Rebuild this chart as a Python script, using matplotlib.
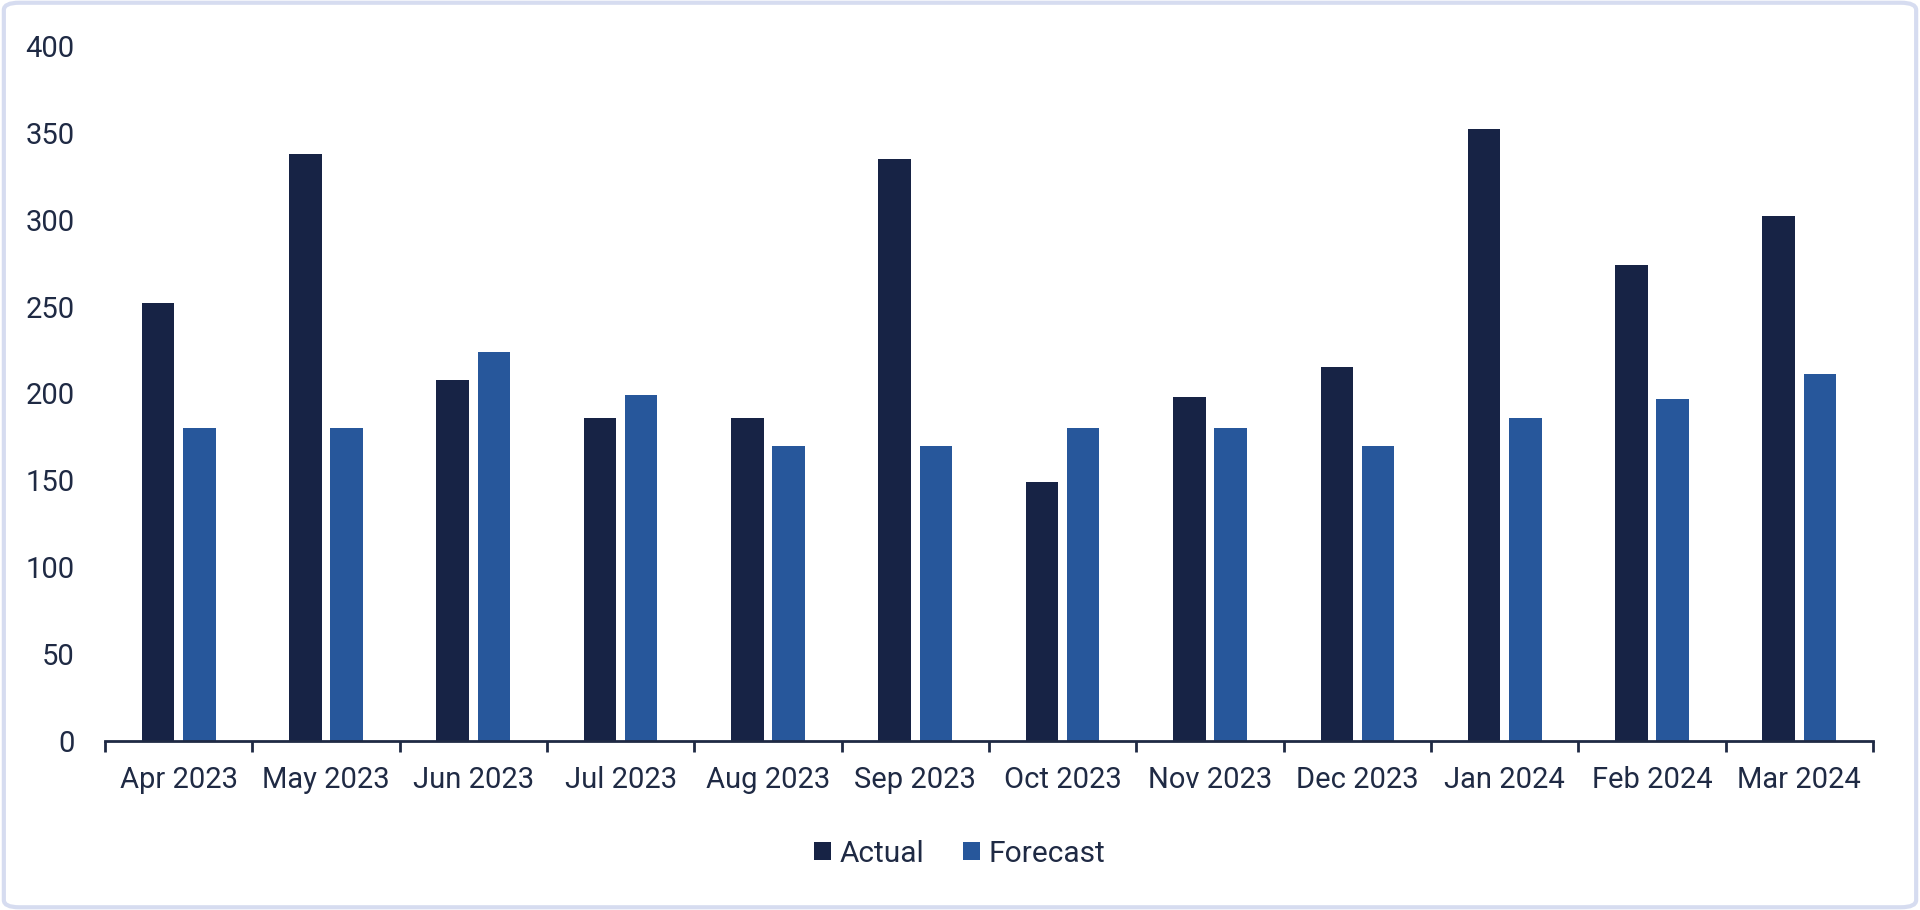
import matplotlib.pyplot as plt
import numpy as np
from matplotlib.patches import FancyBboxPatch, Patch

months = ["Apr 2023", "May 2023", "Jun 2023", "Jul 2023", "Aug 2023", "Sep 2023",
          "Oct 2023", "Nov 2023", "Dec 2023", "Jan 2024", "Feb 2024", "Mar 2024"]
actual = [252, 338, 208, 186, 186, 335, 149, 198, 215, 352, 274, 302]
forecast = [180, 180, 224, 199, 170, 170, 180, 180, 170, 186, 197, 211]

NAVY = "#172345"
BLUE = "#27579b"
TEXT = "#1f2a44"

plt.rcParams["font.family"] = ["Roboto", "DejaVu Sans"]

fig = plt.figure(figsize=(19.2, 9.1), dpi=100)
ax = fig.add_axes([105 / 1920, 1 - 741 / 910, (1873 - 105) / 1920, (741 - 46) / 910])

x = np.arange(len(months))
w = 0.22
gap = 0.06
ax.bar(x - (w + gap) / 2, actual, width=w, color=NAVY, label="Actual")
ax.bar(x + (w + gap) / 2, forecast, width=w, color=BLUE, label="Forecast")

ax.set_xlim(-0.5, len(months) - 0.5)
ax.set_ylim(0, 400)
ax.set_yticks(range(0, 401, 50))
ax.set_xticks(x)
ax.set_xticklabels(months)
ax.set_xticks(np.arange(-0.5, len(months)), minor=True)

for s in ["top", "right", "left"]:
    ax.spines[s].set_visible(False)
ax.spines["bottom"].set_color(TEXT)
ax.spines["bottom"].set_linewidth(2)

ax.tick_params(axis="x", which="major", length=0, pad=18, labelsize=21, labelcolor=TEXT)
ax.tick_params(axis="x", which="minor", length=8, width=2, color=TEXT, direction="out")
ax.tick_params(axis="y", length=0, pad=22, labelsize=21, labelcolor=TEXT)

handles = [Patch(facecolor=NAVY, label="Actual"), Patch(facecolor=BLUE, label="Forecast")]
fig.legend(handles=handles, loc="center", bbox_to_anchor=(0.5, 1 - 854 / 910), ncol=2,
           frameon=False, fontsize=21.5, labelcolor=TEXT, handlelength=0.55,
           handleheight=0.55, handletextpad=0.3, columnspacing=1.3)

# light rounded frame around the whole figure
frame = FancyBboxPatch((0.002, 0.003), 0.996, 0.994, boxstyle="round,pad=0,rounding_size=0.008",
                       transform=fig.transFigure, facecolor="none", edgecolor="#d6dcf0",
                       linewidth=3, zorder=10)
fig.patches.append(frame)

fig.savefig("out.png", dpi=100, facecolor="white")
